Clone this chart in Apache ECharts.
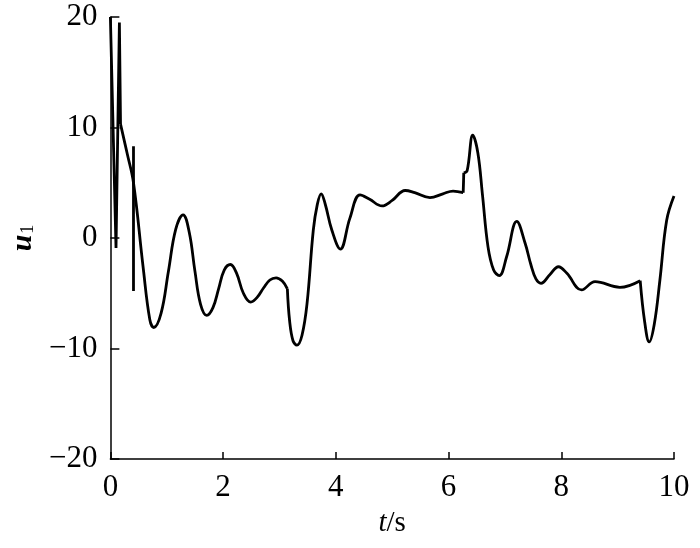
<!DOCTYPE html>
<html>
<head>
<meta charset="utf-8">
<script src="https://cdn.jsdelivr.net/npm/echarts@6/dist/echarts.min.js"></script>
<style>html,body{margin:0;padding:0;background:#fff}#c{width:700px;height:548px}</style>
</head>
<body>
<div id="c"></div>
<script>
// start transient (straight segments)
var tStart = [0.0, 0.1, 0.16, 0.18];
var uStart = [20, -0.9, 19.5, 10.3];
// isolated spike at t≈0.41
var tSpike = [0.41, 0.41];
var uSpike = [8.3, -4.8];
// main response
var tMain = [0.18, 0.30, 0.41, 0.58, 0.70, 0.77, 0.90, 1.03, 1.16, 1.29, 1.40, 1.50, 1.60, 1.71, 1.82, 1.92, 2.02, 2.13, 2.24, 2.36, 2.49, 2.60, 2.72, 2.83, 2.94, 3.05, 3.14, 3.18, 3.24, 3.31, 3.40, 3.49, 3.60, 3.67, 3.74, 3.81, 3.93, 4.08, 4.25, 4.43, 4.60, 4.82, 5.00, 5.23, 5.40, 5.67, 5.90, 6.08, 6.26, 6.27, 6.33, 6.43, 6.52, 6.60, 6.70, 6.80, 6.90, 7.03, 7.21, 7.36, 7.46, 7.55, 7.64, 7.80, 7.95, 8.10, 8.36, 8.60, 9.04, 9.40, 9.48, 9.56, 9.65, 9.75, 9.87, 10.0];
var uMain = [10.3, 7.6, 5.0, -2.6, -7.4, -8.1, -6.8, -3.0, 0.8, 2.1, 0.5, -3.0, -6.0, -7.0, -6.3, -4.6, -2.9, -2.4, -3.2, -5.0, -5.8, -5.4, -4.5, -3.8, -3.6, -3.9, -4.6, -7.5, -9.3, -9.7, -8.8, -5.9, 0.7, 3.0, 4.0, 3.1, 0.7, -1.0, 1.8, 3.9, 3.5, 2.9, 3.4, 4.3, 4.1, 3.65, 4.0, 4.25, 4.1, 5.9, 6.1, 9.3, 7.7, 4.0, -0.8, -2.9, -3.4, -1.7, 1.5, -0.5, -2.4, -3.7, -4.1, -3.3, -2.6, -3.2, -4.7, -3.95, -4.46, -3.86, -7.6, -9.4, -7.8, -3.8, 1.6, 3.8];
// times where the trace has a sharp corner
var tCorners = [3.14, 6.26, 6.27, 9.40];
var xTicks = [0, 2, 4, 6, 8, 10];
var yTicks = [-20, -10, 0, 10, 20];

function pairs(t, u) { return t.map(function (v, i) { return [v, u[i]]; }); }
// split main trace at corners so each piece is smoothed separately
var segments = [], cur = [];
tMain.forEach(function (t, i) {
  cur.push([t, uMain[i]]);
  if (tCorners.indexOf(t) >= 0) { segments.push(cur); cur = [[t, uMain[i]]]; }
});
segments.push(cur);

var font = 'Liberation Serif';
var lineStyle = { color: '#000', width: 2.8 };
var series = [
  { type: 'line', data: pairs(tStart, uStart), showSymbol: false, smooth: false, lineStyle: lineStyle },
  { type: 'line', data: pairs(tSpike, uSpike), showSymbol: false, smooth: false, lineStyle: lineStyle }
];
segments.forEach(function (s) {
  series.push({ type: 'line', data: s, showSymbol: false, smooth: s.length > 2 ? 0.4 : false, lineStyle: lineStyle });
});

var chart = echarts.init(document.getElementById('c'));
chart.setOption({
  animation: false,
  backgroundColor: '#fff',
  grid: { left: 110, right: 26, top: 17, bottom: 89, containLabel: false },
  xAxis: {
    type: 'value', min: xTicks[0], max: xTicks[xTicks.length - 1], interval: 2,
    axisLine: { onZero: false, lineStyle: { color: '#000', width: 1.5 } },
    axisTick: { inside: true, length: 7, lineStyle: { color: '#000', width: 1.5 } },
    splitLine: { show: false },
    axisLabel: { color: '#000', fontFamily: font, fontSize: 31, margin: 13 },
    name: '{i|t}{n|/s}', nameLocation: 'middle', nameGap: 50,
    nameTextStyle: { rich: {
      i: { fontFamily: font, fontStyle: 'italic', fontSize: 29, color: '#000' },
      n: { fontFamily: font, fontSize: 29, color: '#000' } } }
  },
  yAxis: {
    type: 'value', min: yTicks[0], max: yTicks[yTicks.length - 1], interval: 10,
    axisLine: { onZero: false, lineStyle: { color: '#000', width: 1.5 } },
    axisTick: { inside: true, length: 9, lineStyle: { color: '#000', width: 1.5 } },
    splitLine: { show: false },
    axisLabel: { color: '#000', fontFamily: font, fontSize: 31, margin: 13,
      formatter: function (v) { return String(v).replace('-', '\u2212'); } },
    name: '{i|u}{s|1}', nameLocation: 'middle', nameGap: 70, nameRotate: 90,
    nameTextStyle: { rich: {
      i: { fontFamily: font, fontStyle: 'italic', fontWeight: 'bold', fontSize: 30, color: '#000' },
      s: { fontFamily: font, fontSize: 18, color: '#000', padding: [10, 0, 0, 1] } } }
  },
  series: series
});
</script>
</body>
</html>
